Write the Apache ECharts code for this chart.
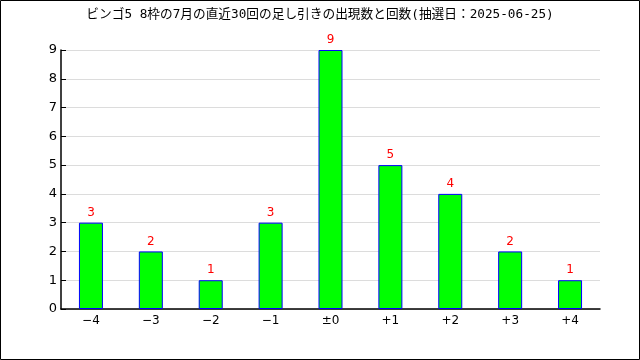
<!DOCTYPE html>
<html><head><meta charset="utf-8">
<script src="https://cdn.jsdelivr.net/npm/echarts@6/dist/echarts.min.js"></script>
<style>html,body{margin:0;padding:0;background:#fff}#c{width:640px;height:360px}</style>
</head><body><div id="c"></div>
<script>
const titleText = 'ビンゴ5 8枠の7月の直近30回の足し引きの出現数と回数(抽選日：2025-06-25)';
const categories = ['−4','−3','−2','−1','±0','+1','+2','+3','+4'];
const counts = [3,2,1,3,9,5,4,2,1];
const yTicks = [0,1,2,3,4,5,6,7,8,9];

const chart = echarts.init(document.getElementById('c'), null, {renderer:'canvas'});
chart.setOption({
  animation:false,
  backgroundColor:'#fff',
  title:{text:titleText,left:'center',top:3,textStyle:{fontFamily:'"DejaVu Sans Mono","Noto Sans CJK JP"',fontSize:12.7,fontWeight:'normal',color:'#000'}},
  graphic:[{type:'rect',shape:{x:0.5,y:0.5,width:639,height:359},style:{fill:'none',stroke:'#000',lineWidth:1}}],
  grid:{left:61,right:40,top:50,bottom:51},
  xAxis:{type:'category',data:categories,
    axisLine:{lineStyle:{color:'#000',width:1.5}},
    axisTick:{inside:true,length:5,lineStyle:{color:'#000'}},
    axisLabel:{color:'#000',fontFamily:'DejaVu Sans',fontSize:12,margin:6}},
  yAxis:{type:'value',min:0,max:9,interval:1,
    axisLine:{show:true,lineStyle:{color:'#000',width:1.5}},
    axisTick:{show:true,inside:true,length:5,lineStyle:{color:'#000'}},
    axisLabel:{color:'#000',fontFamily:'DejaVu Sans',fontSize:13,margin:4,formatter:v=>yTicks.includes(v)?String(v):''},
    splitLine:{lineStyle:{color:'#dcdcdc'}}},
  series:[{type:'bar',data:counts,barWidth:24,
    itemStyle:{color:'#00ff00',borderColor:'#0000ff',borderWidth:1},
    label:{show:true,position:'top',color:'#ff0000',fontFamily:'DejaVu Sans',fontSize:12,distance:4}}]
});
</script></body></html>
